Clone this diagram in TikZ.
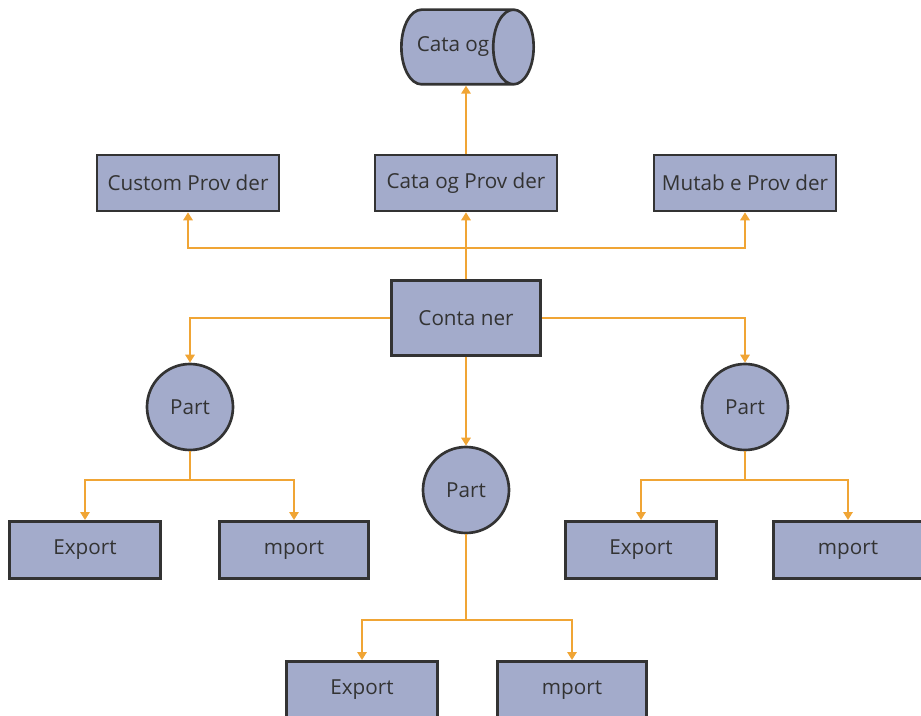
\documentclass[tikz,border=0pt]{standalone}
\usepackage{fontspec}
\setmainfont{Open Sans}
\usepackage{tikz}
\usetikzlibrary{arrows.meta,shapes.geometric}

\definecolor{boxfill}{HTML}{A3ABCB}
\definecolor{boxline}{HTML}{333333}
\definecolor{linkcol}{HTML}{F0A535}
\tikzset{
  box/.style={draw=boxline, line width=2pt, fill=boxfill, text=boxline,
    font=\fontsize{15.5}{18}\selectfont, minimum height=42pt},
  partnode/.style={box, circle, minimum size=64.5pt, inner sep=0pt},
  link/.style={draw=linkcol, line width=1.5pt},
  arr/.style={link, -{Triangle[width=7pt,length=6pt]}},
}

\begin{document}
\begin{tikzpicture}[x=0.75pt,y=-0.75pt]
\clip (0,0) rectangle (921,716);
\node[box, cylinder, aspect=1.6, inner sep=2pt, minimum width=56pt, minimum height=99pt] (catalog) at (453,47) {Cata og};%カタログ
% プロバイダ
\node[box, minimum width=136.5pt] (custprov) at (188,183) {Custom Prov der};
\node[box, minimum width=136.5pt] (catprov) at (466,183) {Cata og Prov der};
\node[box, minimum width=136.5pt] (mutprov) at (745,183) {Mutab e Prov der};
\node[box, minimum width=112pt, minimum height=56pt] (container) at (466,318) {Conta ner};%コンテナ
% パーツ
\node[partnode] (partL) at (190,407) {Part};
\node[partnode] (partM) at (466,490) {Part};
\node[partnode] (partR) at (745,407) {Part};
% エクスポートとインポート
\node[box, minimum width=113pt, minimum height=43pt] (expL) at (85,550) {Export};
\node[box, minimum width=112pt, minimum height=43pt] (impL) at (294,550) {mport};
\node[box, minimum width=113pt, minimum height=43pt] (expR) at (641,550) {Export};
\node[box, minimum width=112pt, minimum height=43pt] (impR) at (848,550) {mport};
\node[box, minimum width=113pt, minimum height=43pt] (expM) at (362,690) {Export};
\node[box, minimum width=112pt, minimum height=43pt] (impM) at (572,690) {mport};

\coordinate (hub) at (466,248);
\coordinate (splitL) at (190,480);
\coordinate (splitR) at (745,480);
\coordinate (splitM) at (466,620);

\draw[arr] (catprov) -- (catprov |- catalog.south);
\draw[arr] (container) -- (catprov);
\draw[arr] (hub) -| (custprov);
\draw[arr] (hub) -| (mutprov);
\draw[arr] (container) -| (partL);
\draw[arr] (container) -| (partR);
\draw[arr] (container) -- (partM);
\draw[link] (partL) -- (splitL);
\draw[link] (partR) -- (splitR);
\draw[link] (partM) -- (splitM);
\draw[arr] (splitL) -| (expL);
\draw[arr] (splitL) -| (impL);
\draw[arr] (splitR) -| (expR);
\draw[arr] (splitR) -| (impR);
\draw[arr] (splitM) -| (expM);
\draw[arr] (splitM) -| (impM);
\end{tikzpicture}
\end{document}
